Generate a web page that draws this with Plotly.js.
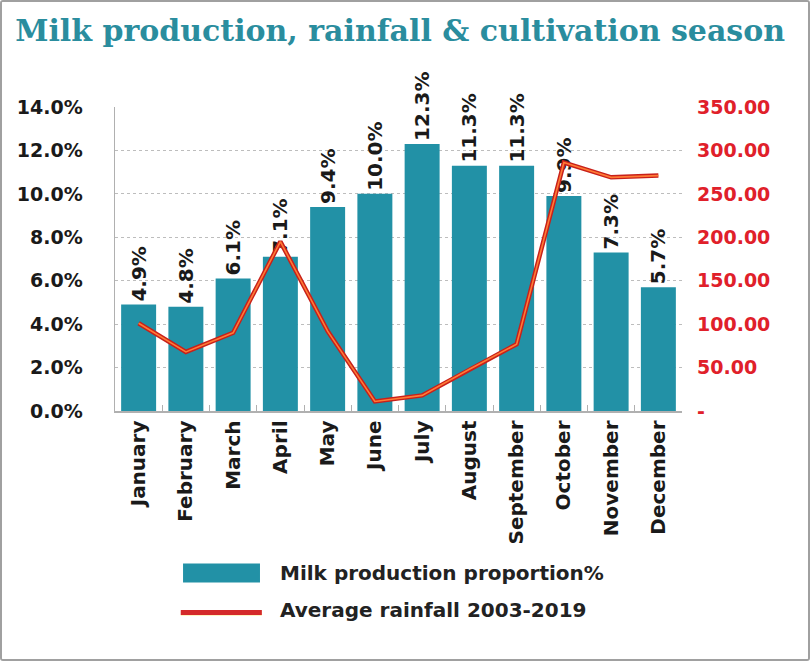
<!DOCTYPE html>
<html><head><meta charset="utf-8">
<script src="https://cdn.plot.ly/plotly-3.0.1.min.js"></script>
<style>
html,body{margin:0;padding:0;background:#fff;}
#wrap{width:810px;height:661px;box-sizing:border-box;border:2px solid #a0a0a0;border-radius:3px;overflow:hidden;}
#chart{width:806px;height:657px;}
</style></head>
<body><div id="wrap"><div id="chart"></div></div>
<script>
const months = ["January","February","March","April","May","June","July","August","September","October","November","December"];
const milkShare = [4.9,4.8,6.1,7.1,9.4,10.0,12.3,11.3,11.3,9.9,7.3,5.7];
const rainfall = [101,68,90,195,92,11,18,48,77,286,269,271];
const leftTicks = [0,2,4,6,8,10,12,14];
const leftTickText = ["0.0%","2.0%","4.0%","6.0%","8.0%","10.0%","12.0%","14.0%"];
const rightTicks = [0,50,100,150,200,250,300,350];
const rightTickText = ["-","50.00","100.00","150.00","200.00","250.00","300.00","350.00"];

const F = "DejaVu Sans, sans-serif";
const traces = [
  {type:"bar", x:months, y:milkShare, marker:{color:"#2291a6"},
   text:milkShare.map(v=>v.toFixed(1)+"%"), textposition:"outside", textangle:-90,
   textfont:{family:F,size:20,color:"#1a1a1a",weight:"bold"}, cliponaxis:false,
   constraintext:"none", showlegend:false, hoverinfo:"skip"},
  {type:"scatter", mode:"lines", x:months, y:rainfall, yaxis:"y2",
   line:{color:"#c8201a",width:4.5}, showlegend:false, hoverinfo:"skip"},
  {type:"scatter", mode:"lines", x:months, y:rainfall, yaxis:"y2",
   line:{color:"#ff7a35",width:1.6}, showlegend:false, hoverinfo:"skip"}
];
const layout = {
  width:806, height:657,
  margin:{l:113,r:126,t:105,b:248},
  paper_bgcolor:"#fff", plot_bgcolor:"#fff",
  bargap:0.26,
  title:{text:"Milk production, rainfall & cultivation season", x:0.494, xref:"container", xanchor:"center",
         y:0.956, yref:"container", yanchor:"middle",
         font:{family:"DejaVu Serif, serif",size:30,color:"#2a8d9e",weight:"bold"}},
  xaxis:{tickangle:-90, tickfont:{family:F,size:20,color:"#1a1a1a",weight:"bold"},
         showline:true, linecolor:"#b0b0b0", linewidth:1.5, ticks:"inside", ticklen:6, tickcolor:"#b0b0b0",
         tickson:"boundaries", showgrid:false, fixedrange:true},
  yaxis:{range:[0,14], tickvals:leftTicks, ticktext:leftTickText,
         tickfont:{family:F,size:19,color:"#1a1a1a",weight:"bold"},
         showline:true, linecolor:"#b0b0b0", linewidth:1.5, showgrid:true, gridcolor:"#bdbdbd", griddash:"dot",
         zeroline:false, ticks:"", ticklabelstandoff:27},
  yaxis2:{range:[0,350], overlaying:"y", side:"right", tickvals:rightTicks, ticktext:rightTickText,
          tickfont:{family:F,size:19,color:"#e0202a",weight:"bold"}, showgrid:false, zeroline:false,
          showline:false, ticks:"", ticklabelstandoff:14},
  shapes:[
    {type:"rect", xref:"paper", yref:"paper", x0:0.120, x1:0.2557, y0:-0.564, y1:-0.5017,
     fillcolor:"#2291a6", line:{width:0}},
    {type:"line", xref:"paper", yref:"paper", x0:0.116, x1:0.259, y0:-0.666, y1:-0.666,
     line:{color:"#fff3c0", width:5}},
    {type:"line", xref:"paper", yref:"paper", x0:0.116, x1:0.259, y0:-0.663, y1:-0.663,
     line:{color:"#d42a2a", width:5}}
  ],
  annotations:[
    {xref:"paper", yref:"paper", x:0.2875, y:-0.533, xanchor:"left", yanchor:"middle", showarrow:false,
     text:"Milk production proportion%", font:{family:F,size:20,color:"#222",weight:"bold"}},
    {xref:"paper", yref:"paper", x:0.2875, y:-0.655, xanchor:"left", yanchor:"middle", showarrow:false,
     text:"Average rainfall 2003-2019", font:{family:F,size:20,color:"#222",weight:"bold"}}
  ]
};
Plotly.newPlot("chart", traces, layout, {displayModeBar:false, staticPlot:true});
</script></body></html>
